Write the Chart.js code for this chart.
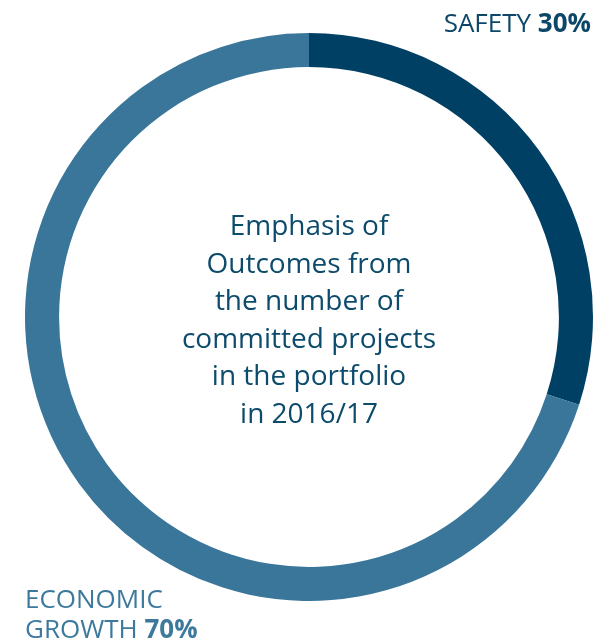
<!DOCTYPE html>
<html>
<head>
<meta charset="utf-8">
<script src="https://cdn.jsdelivr.net/npm/chart.js@4/dist/chart.umd.min.js"></script>
<style>
    html, body { margin: 0; padding: 0; background: #fff; }
    #wrap { width: 609px; height: 641px; }
</style>
</head>
<body>
<div id="wrap"><canvas id="donut"></canvas></div>
<script>
// Chart data
const outcomes = ['SAFETY', 'ECONOMIC GROWTH'];
const shares = [30, 70];
const sliceColors = ['#004064', '#3a7699'];
const labelColors = ['#0c4769', '#3c799c'];
const centerLines = ['Emphasis of', 'Outcomes from', 'the number of', 'committed projects', 'in the portfolio', 'in 2016/17'];

const fontFamily = '"Open Sans", "Noto Sans", sans-serif';

// Draws the centre caption and the two outside labels
const textPlugin = {
    id: 'textPlugin',
    afterDraw(chart) {
        const ctx = chart.ctx;
        const meta = chart.getDatasetMeta(0);
        const cx = meta.data[0].x;

        ctx.save();
        ctx.fillStyle = '#0d4b6c';
        ctx.font = '400 28px ' + fontFamily;
        ctx.textAlign = 'center';
        ctx.textBaseline = 'alphabetic';
        const lineH = 37.5;
        const firstBase = 235;
        centerLines.forEach((line, i) => {
            ctx.fillText(line, cx, firstBase + i * lineH);
        });

        // Safety label, top right
        drawLabel(ctx, [outcomes[0]], shares[0], 591, 32, 'right', labelColors[0], 30);
        // Economic growth label, bottom left
        const words = outcomes[1].split(' ');
        drawLabel(ctx, words, shares[1], 25, 608, 'left', labelColors[1], 30);
        ctx.restore();
    }
};

function drawLabel(ctx, lines, value, x, y, align, color, lineH) {
    const size = '26px ';
    ctx.fillStyle = color;
    ctx.textBaseline = 'alphabetic';
    ctx.textAlign = 'left';
    const last = lines.length - 1;
    lines.forEach((line, i) => {
        const by = y + i * lineH;
        ctx.font = '400 ' + size + fontFamily;
        if (i < last) {
            ctx.fillText(line, x, by);
            return;
        }
        const normal = line + ' ';
        const bold = value + '%';
        const w1 = ctx.measureText(normal).width;
        ctx.font = '700 ' + size + fontFamily;
        const w2 = ctx.measureText(bold).width;
        const start = align === 'right' ? x - w1 - w2 : x;
        ctx.font = '400 ' + size + fontFamily;
        ctx.fillText(normal, start, by);
        ctx.font = '700 ' + size + fontFamily;
        ctx.fillText(bold, start + w1, by);
    });
}

new Chart(document.getElementById('donut').getContext('2d'), {
    type: 'doughnut',
    data: {
        labels: outcomes,
        datasets: [{
            data: shares,
            backgroundColor: sliceColors,
            borderWidth: 0
        }]
    },
    options: {
        responsive: true,
        maintainAspectRatio: false,
        animation: false,
        cutout: '88%',
        layout: {
            padding: { left: 25, right: 16, top: 33, bottom: 40 }
        },
        plugins: {
            legend: { display: false },
            tooltip: { enabled: false }
        }
    },
    plugins: [textPlugin]
});
</script>
</body>
</html>
